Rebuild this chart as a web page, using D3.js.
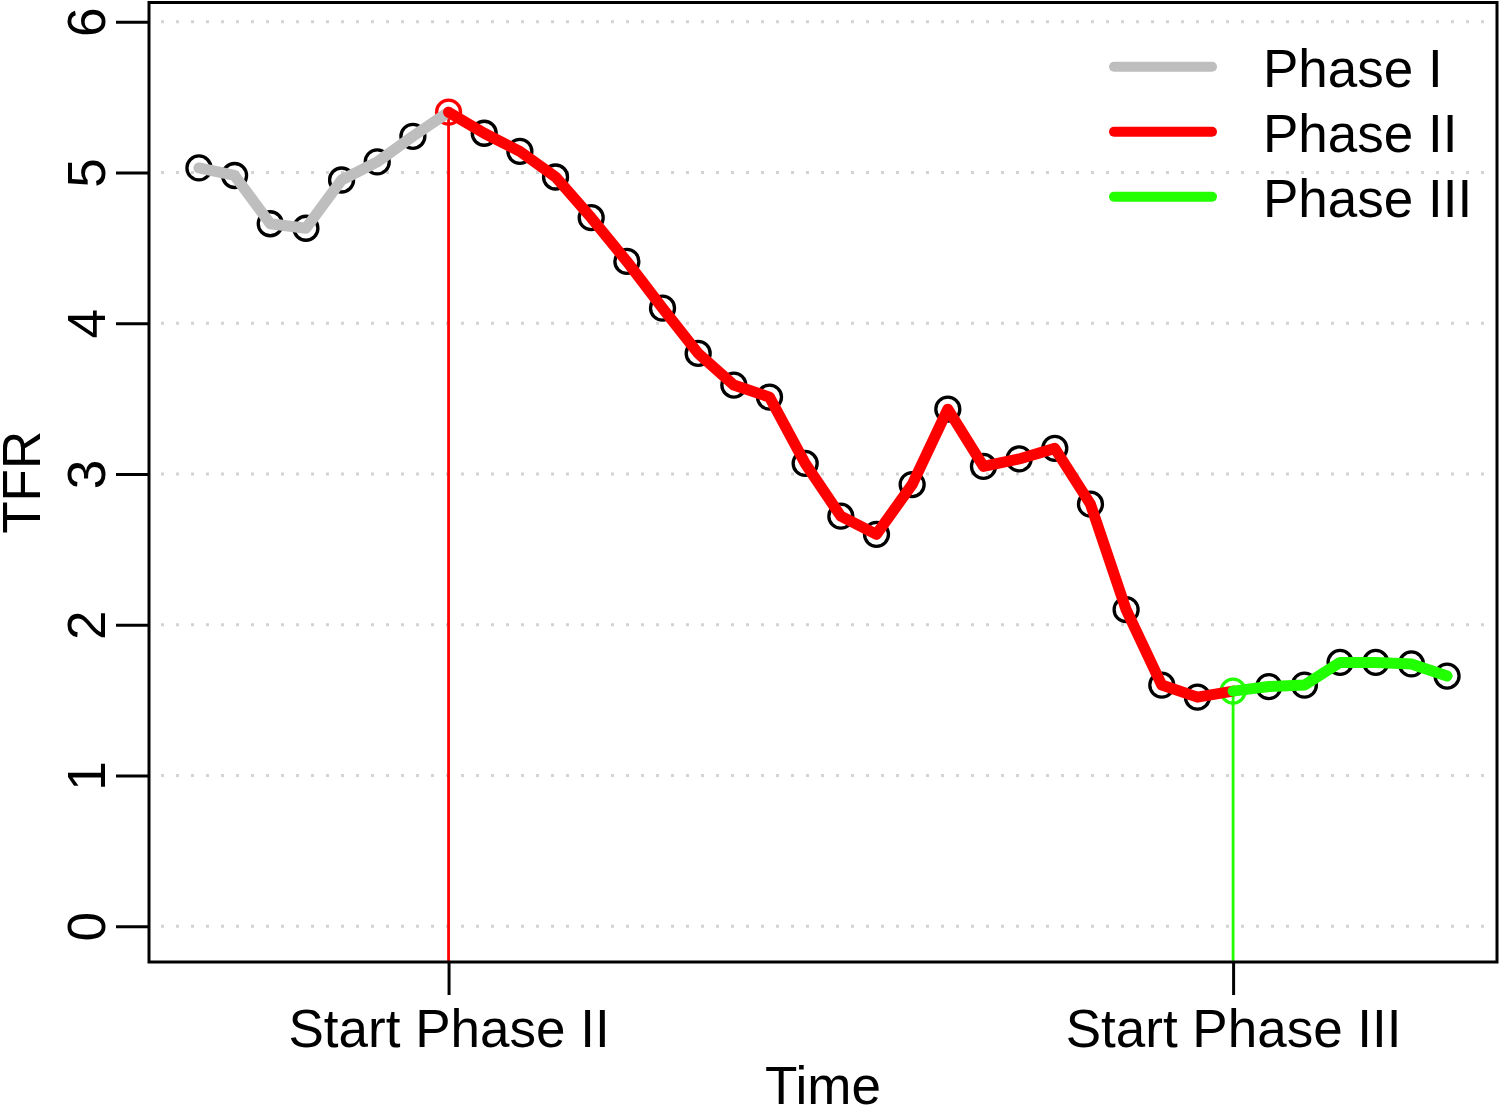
<!DOCTYPE html>
<html>
<head>
<meta charset="utf-8">
<script src="https://cdn.jsdelivr.net/npm/d3@7"></script>
<style>
  html, body { margin: 0; padding: 0; background: #fff; }
  svg { display: block; font-family: "Liberation Sans", Arial, Helvetica, sans-serif; }
</style>
</head>
<body>
<svg id="chart" width="1500" height="1113"></svg>
<script>
// ---- data ----
const time = d3.range(1, 37);
const tfr = [5.03, 4.98, 4.66, 4.63, 4.95, 5.07, 5.24, 5.40,
             5.26, 5.14, 4.97, 4.70, 4.41, 4.10, 3.80, 3.59, 3.51,
             3.07, 2.72, 2.60, 2.93, 3.43, 3.05, 3.10, 3.17, 2.80,
             2.10, 1.60, 1.52, 1.56, 1.59, 1.60, 1.75, 1.75, 1.74, 1.66];
const startPhase2 = 8;
const startPhase3 = 30;
const yTicks = [0, 1, 2, 3, 4, 5, 6];
const xTickLabels = ["Start Phase II", "Start Phase III"];
const legendLabels = ["Phase I", "Phase II", "Phase III"];
const phaseColors = ["#bebebe", "#ff0000", "#22ff00"];

// ---- layout ----
const svg = d3.select("#chart");
const plot = { left: 149, right: 1497, top: 2.5, bottom: 962 };
const x = d3.scaleLinear().domain([-0.4, 37.4]).range([plot.left, plot.right]);
const y = d3.scaleLinear().domain([0, 6]).range([926.3, 21.7]);
const fontSize = 53;

const pts = time.map((t, i) => ({ t, v: tfr[i] }));

// gridlines
svg.append("g").selectAll("line").data(yTicks).join("line")
  .attr("x1", plot.left).attr("x2", plot.right)
  .attr("y1", d => y(d)).attr("y2", d => y(d))
  .attr("stroke", "#d3d3d3").attr("stroke-width", 3)
  .attr("stroke-dasharray", "3,12").attr("stroke-dashoffset", -12);

// vertical start lines
svg.append("line")
  .attr("x1", x(startPhase2)).attr("x2", x(startPhase2))
  .attr("y1", y(tfr[startPhase2 - 1])).attr("y2", plot.bottom)
  .attr("stroke", phaseColors[1]).attr("stroke-width", 2.8);
svg.append("line")
  .attr("x1", x(startPhase3)).attr("x2", x(startPhase3))
  .attr("y1", y(tfr[startPhase3 - 1])).attr("y2", plot.bottom)
  .attr("stroke", phaseColors[2]).attr("stroke-width", 2.8);

// points (black circles)
svg.append("g").selectAll("circle")
  .data(pts.filter(d => d.t !== startPhase2 && d.t !== startPhase3))
  .join("circle")
  .attr("cx", d => x(d.t)).attr("cy", d => y(d.v)).attr("r", 12)
  .attr("fill", "none").attr("stroke", "#000").attr("stroke-width", 3.3);

// colored start circles
svg.append("circle").attr("cx", x(startPhase2)).attr("cy", y(tfr[startPhase2 - 1])).attr("r", 12)
  .attr("fill", "none").attr("stroke", phaseColors[1]).attr("stroke-width", 3.3);
svg.append("circle").attr("cx", x(startPhase3)).attr("cy", y(tfr[startPhase3 - 1])).attr("r", 12)
  .attr("fill", "none").attr("stroke", phaseColors[2]).attr("stroke-width", 3.3);

// phase lines
const line = d3.line().x(d => x(d.t)).y(d => y(d.v));
const segs = [
  pts.filter(d => d.t <= startPhase2),
  pts.filter(d => d.t >= startPhase2 && d.t <= startPhase3),
  pts.filter(d => d.t >= startPhase3)
];
svg.append("g").selectAll("path").data(segs).join("path")
  .attr("d", line)
  .attr("fill", "none")
  .attr("stroke", (d, i) => phaseColors[i])
  .attr("stroke-width", 11)
  .attr("stroke-linejoin", "round").attr("stroke-linecap", "round");

// frame
svg.append("rect")
  .attr("x", plot.left).attr("y", plot.top)
  .attr("width", plot.right - plot.left).attr("height", plot.bottom - plot.top)
  .attr("fill", "none").attr("stroke", "#000").attr("stroke-width", 3);

// y axis
const yAxis = d3.axisLeft(y).tickValues(yTicks).tickSize(33).tickPadding(0).tickFormat(d3.format("d"));
const gy = svg.append("g").attr("transform", `translate(${plot.left},0)`).call(yAxis);
gy.select(".domain").remove();
gy.selectAll(".tick line").attr("stroke", "#000").attr("stroke-width", 3);
gy.selectAll(".tick text")
  .attr("x", null).attr("dy", null)
  .attr("transform", "translate(-44,0) rotate(-90)")
  .attr("text-anchor", "middle")
  .attr("font-size", fontSize).attr("fill", "#000")
  .attr("font-family", "Liberation Sans, Arial, sans-serif");

// x axis
const xAxis = d3.axisBottom(x).tickValues([startPhase2, startPhase3]).tickSize(33).tickPadding(0)
  .tickFormat((d, i) => xTickLabels[i]);
const gx = svg.append("g").attr("transform", `translate(0,${plot.bottom})`).call(xAxis);
gx.select(".domain").remove();
gx.selectAll(".tick line").attr("stroke", "#000").attr("stroke-width", 3);
gx.selectAll(".tick text")
  .attr("y", 85).attr("dy", null)
  .attr("font-size", fontSize).attr("fill", "#000")
  .attr("font-family", "Liberation Sans, Arial, sans-serif");

// axis titles
svg.append("text").attr("x", (plot.left + plot.right) / 2).attr("y", 1104)
  .attr("text-anchor", "middle").attr("font-size", fontSize).text("Time");
svg.append("text")
  .attr("transform", `translate(40,${(plot.top + plot.bottom) / 2}) rotate(-90)`)
  .attr("text-anchor", "middle").attr("font-size", fontSize).text("TFR");

// legend
const lg = svg.append("g").selectAll("g").data(legendLabels).join("g")
  .attr("transform", (d, i) => `translate(0,${66.7 + i * 65})`);
lg.append("line").attr("x1", 1114).attr("x2", 1212).attr("y1", 0).attr("y2", 0)
  .attr("stroke", (d, i) => phaseColors[i]).attr("stroke-width", 10).attr("stroke-linecap", "round");
lg.append("text").attr("x", 1263).attr("y", 20).attr("font-size", fontSize).text(d => d);
</script>
</body>
</html>
